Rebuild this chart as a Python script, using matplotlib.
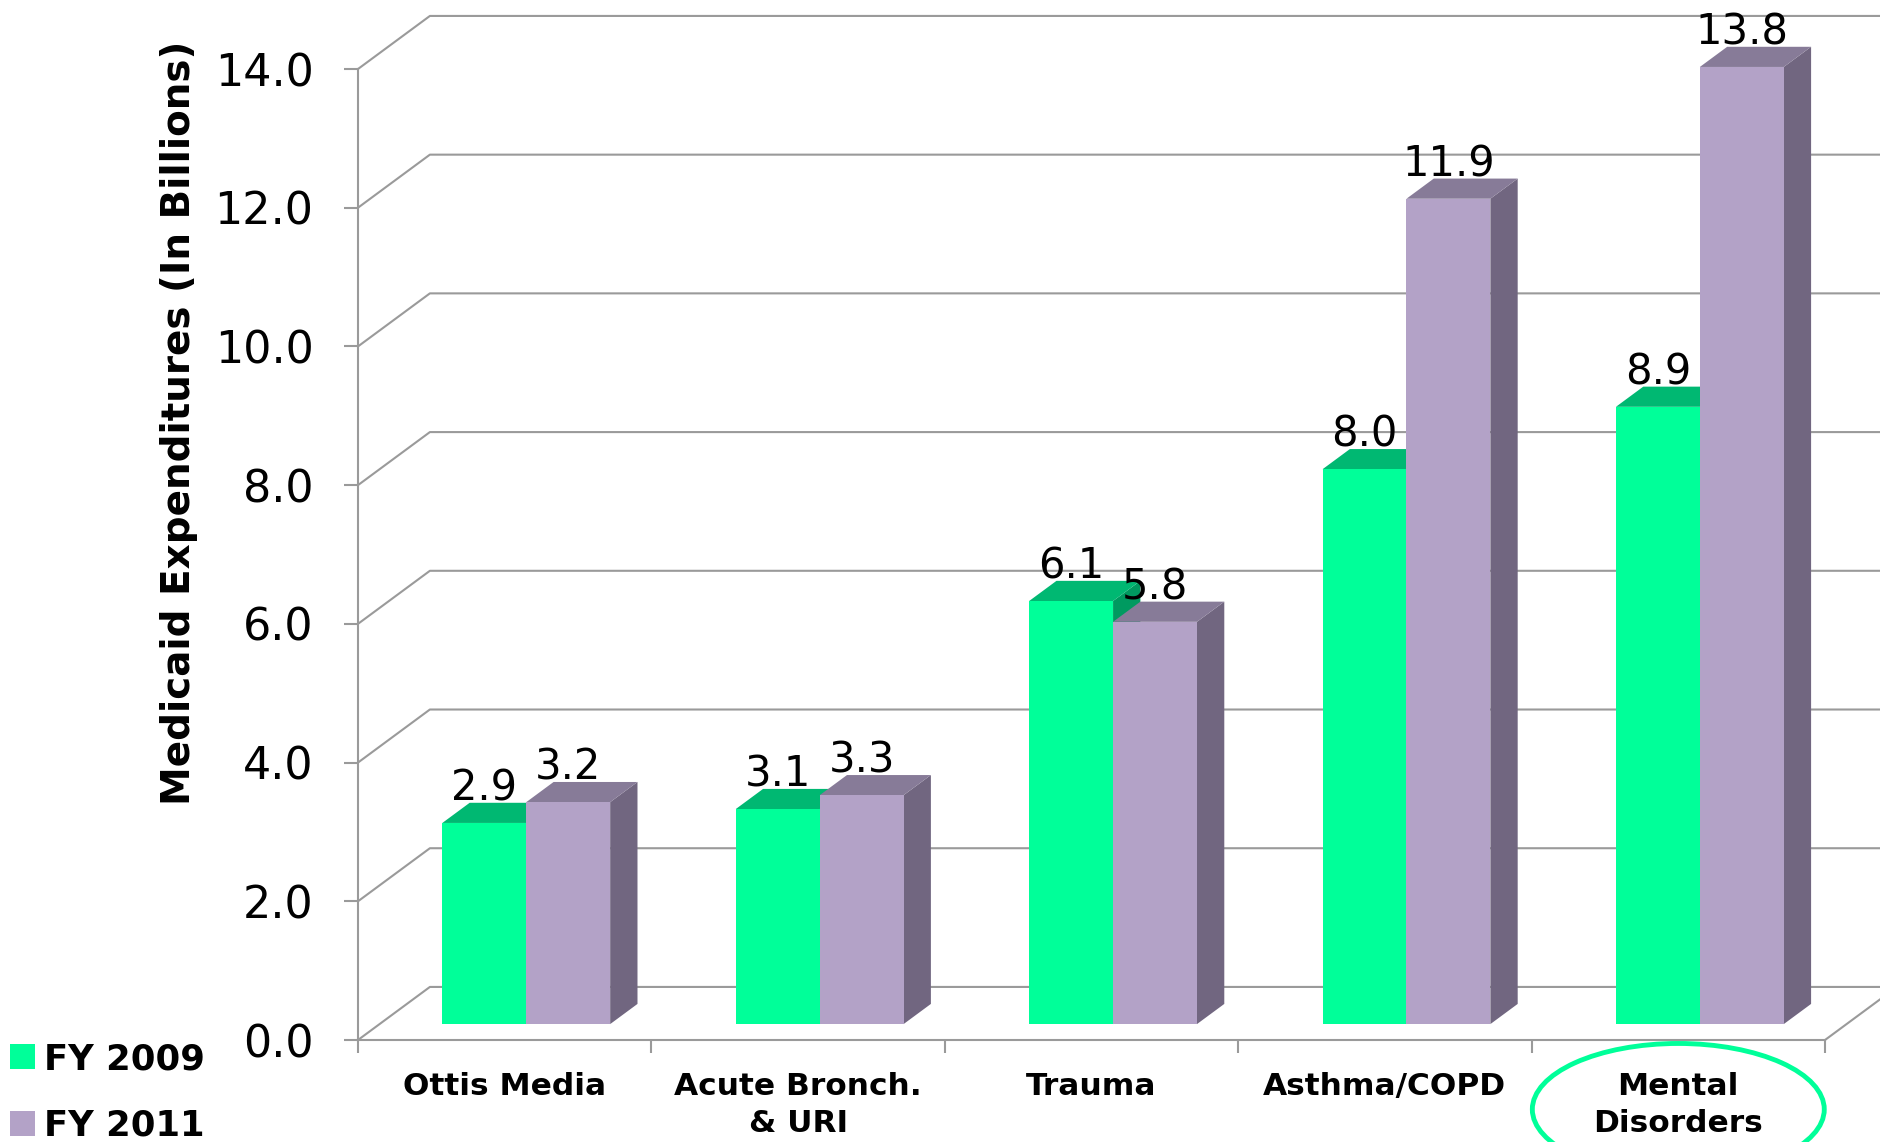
import matplotlib.pyplot as plt
from matplotlib.patches import Polygon, Patch, Ellipse
from matplotlib.ticker import FormatStrFormatter

categories = ["Ottis Media", "Acute Bronch.\n& URI", "Trauma", "Asthma/COPD", "Mental\nDisorders"]
fy2009 = [2.9, 3.1, 6.1, 8.0, 8.9]
fy2011 = [3.2, 3.3, 5.8, 11.9, 13.8]
series_names = ["FY 2009", "FY 2011"]
yticks = [0, 2, 4, 6, 8, 10, 12, 14]
highlight = "Mental\nDisorders"

# face colours: front, top, side
green = ("#00FF99", "#00B872", "#009A60")
purple = ("#B3A2C7", "#877B98", "#716680")
grid_col = "#9A9A9A"

# fake 3d: depth of the box in data units, bars sit part way back
DX, DY = 0.245, 0.765
bar_start = 0.30
bar_depth = 0.38
bw = 0.286

fig = plt.figure(figsize=(18.81, 11.42), dpi=100)
ax = fig.add_axes([358 / 1881, 102 / 1142, 1467 / 1881, 971 / 1142])
ax.set_xlim(0, len(categories))
ax.set_ylim(0, 14)

# back wall and side wall grid
for v in yticks:
    ax.plot([0, DX, len(categories) + DX + 0.3], [v, v + DY, v + DY],
            color=grid_col, lw=1.5, clip_on=False, zorder=1)
ax.plot([len(categories), len(categories) + DX], [0, DY], color=grid_col, lw=1.5,
        clip_on=False, zorder=1)


def draw_bar(x0, val, cols, z):
    y0 = bar_start * DY
    y1 = val + y0
    x1 = x0 + bw
    ddx, ddy = bar_depth * DX, bar_depth * DY
    side = Polygon([(x1, y0), (x1, y1), (x1 + ddx, y1 + ddy), (x1 + ddx, y0 + ddy)],
                   closed=True, fc=cols[2], ec="none", clip_on=False, zorder=z)
    top = Polygon([(x0, y1), (x1, y1), (x1 + ddx, y1 + ddy), (x0 + ddx, y1 + ddy)],
                  closed=True, fc=cols[1], ec="none", clip_on=False, zorder=z)
    front = Polygon([(x0, y0), (x1, y0), (x1, y1), (x0, y1)],
                    closed=True, fc=cols[0], ec="none", clip_on=False, zorder=z)
    for p in (side, top, front):
        ax.add_patch(p)
    ax.text(x0 + bw / 2, y1 + ddy + 0.03, "%.1f" % val, ha="center", va="baseline",
            fontsize=30, color="black", zorder=20, clip_on=False)


for i in range(len(categories)):
    cx = i + 0.5 + bar_start * DX
    draw_bar(cx - bw, fy2009[i], green, 3 + i * 2)
    draw_bar(cx, fy2011[i], purple, 4 + i * 2)

# axes styling
for s in ["top", "right"]:
    ax.spines[s].set_visible(False)
for s in ["left", "bottom"]:
    ax.spines[s].set_color(grid_col)
    ax.spines[s].set_linewidth(1.5)

ax.set_yticks(yticks)
ax.yaxis.set_major_formatter(FormatStrFormatter("%.1f"))
ax.tick_params(axis="y", direction="out", length=10, width=1.5, color=grid_col,
               labelsize=32, pad=22)

ax.set_xticks(range(len(categories) + 1))
ax.set_xticklabels([])
ax.set_xticks([i + 0.5 for i in range(len(categories))], minor=True)
ax.set_xticklabels(categories, minor=True, fontsize=22.5, fontweight="bold",
                   linespacing=1.35)
ax.tick_params(axis="x", which="major", direction="out", length=9, width=1.5, color=grid_col)
ax.tick_params(axis="x", which="minor", length=0, pad=23)

ax.set_ylabel("Medicaid Expenditures (In Billions)", fontsize=28, fontweight="bold")
ax.yaxis.set_label_coords(-0.109, 0.636)

# circle the highlighted category
k = categories.index(highlight)
ax.add_patch(Ellipse((k + 0.5, -1.0), 0.995, 1.9, fill=False, ec=green[0], lw=3.5,
                     clip_on=False, zorder=5))

handles = [Patch(fc=green[0], ec="none"), Patch(fc=purple[0], ec="none")]
fig.legend(handles, series_names, loc="upper left", bbox_to_anchor=(10 / 1881, 1 - 1042 / 1142),
           frameon=False, prop={"size": 25.5, "weight": "bold"}, handlelength=0.7,
           handleheight=0.7, handletextpad=0.25, labelspacing=0.92, borderpad=0,
           borderaxespad=0)

fig.savefig("out.png", dpi=100, facecolor="white")
